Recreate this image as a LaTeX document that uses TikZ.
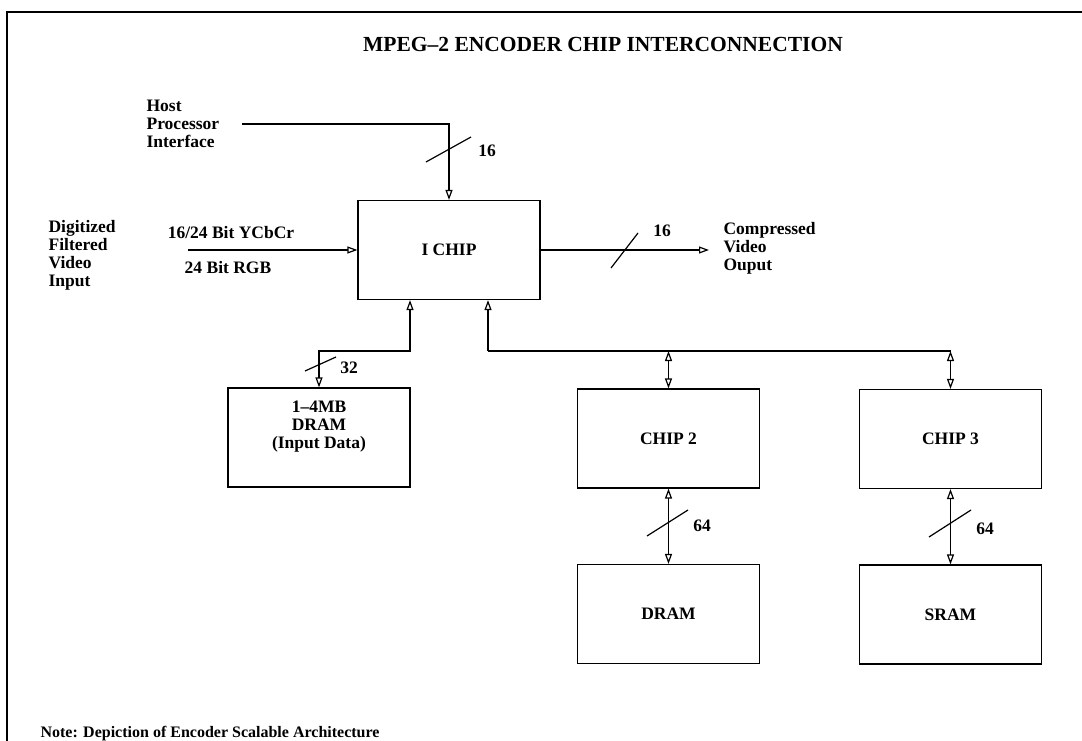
\documentclass[tikz,border=0pt]{standalone}
\usepackage{fontspec}
\setmainfont{Liberation Serif}
\usetikzlibrary{arrows.meta,positioning,calc}

\tikzset{
  chipbox/.style={draw, minimum width=182pt, minimum height=99pt},
  opentip/.style={-{Triangle[open,length=10pt,width=7pt]}},
  bothtip/.style={{Triangle[open,length=10pt,width=7pt]}-{Triangle[open,length=10pt,width=7pt]}},
}

\begin{document}
\begin{tikzpicture}[x=1pt, y=-1pt, line width=1.2pt,
    every node/.style={inner sep=0pt, font=\bfseries\fontsize{17.5}{18}\selectfont}]
  \useasboundingbox (0,0) rectangle (1082,741);
  \draw (7,741) -- (7,12) -- (1082,12);
  \node[font=\bfseries\fontsize{21.5}{24}\selectfont] (title) at (603,44) {MPEG--2 ENCODER CHIP INTERCONNECTION};

  % chips and memories
  \node[chipbox] (ichip) at (449,250) {I CHIP};
  \node[chipbox] (indram) at (319,437.5) {};
  \node[align=center] (indramtxt) at (319,427) {1--4MB\\DRAM\\(Input Data)};
  \node[chipbox] (chip2) at (668.5,438.5) {CHIP 2};
  \node[chipbox] (dram) at (668.5,614) {DRAM};
  \node[chipbox] (chip3) at (950.5,439) {CHIP 3};
  \node[chipbox] (sram) at (950.5,614.5) {SRAM};

  % outside labels
  \node[align=left, anchor=west] (host) at (146,124) {Host\\Processor\\Interface};
  \node[align=left, anchor=west] (vidin) at (48,255) {Digitized\\Filtered\\Video\\Input};
  \node (ycbcr) at (231,233) {16/24 Bit YCbCr};
  \node (rgb) at (228,268) {24 Bit RGB};
  \node[align=left, anchor=west] (vidout) at (723,248) {Compressed\\Video\\Ouput};
  \node[anchor=west, font=\bfseries\fontsize{16}{18}\selectfont] (note) at (40,734) {Note: Depiction of Encoder Scalable Architecture};

  % connections
  \coordinate (hostsrc) at (242,124);
  \coordinate (vidsrc) at (188,250);
  \coordinate (vidsink) at (709,250);
  \coordinate (lbus) at (410,351);
  \coordinate (bus) at (488,351);
  \draw[opentip] (hostsrc) -| (ichip.north);
  \draw[opentip] (vidsrc) -- (ichip.west);
  \draw[opentip] (ichip.east) -- (vidsink);
  \draw[bothtip] (indram.north) |- (lbus) -- (lbus |- ichip.south);
  \draw[opentip] (bus) -- (bus |- ichip.south);
  \draw (bus) -- (bus -| chip3.north);
  \draw[bothtip] (bus -| chip2.north) -- (chip2.north);
  \draw[bothtip] (bus -| chip3.north) -- (chip3.north);
  \draw[bothtip] (chip2.south) -- (dram.north);
  \draw[bothtip] (chip3.south) -- (sram.north);

  % bus widths
  \foreach \sx/\sy/\ex/\ey/\lx/\ly/\w [count=\i] in {426/162/471/137/487/151/16, 611/268/638/233/662/231/16,
      305/371/336/357/349/368/32, 647/536/688/510/702/526/64, 929/537/971/510/985/529/64} {
    \draw (\sx,\sy) -- (\ex,\ey);
    \node (bits\i) at (\lx,\ly) {\w};
  }
\end{tikzpicture}
\end{document}
